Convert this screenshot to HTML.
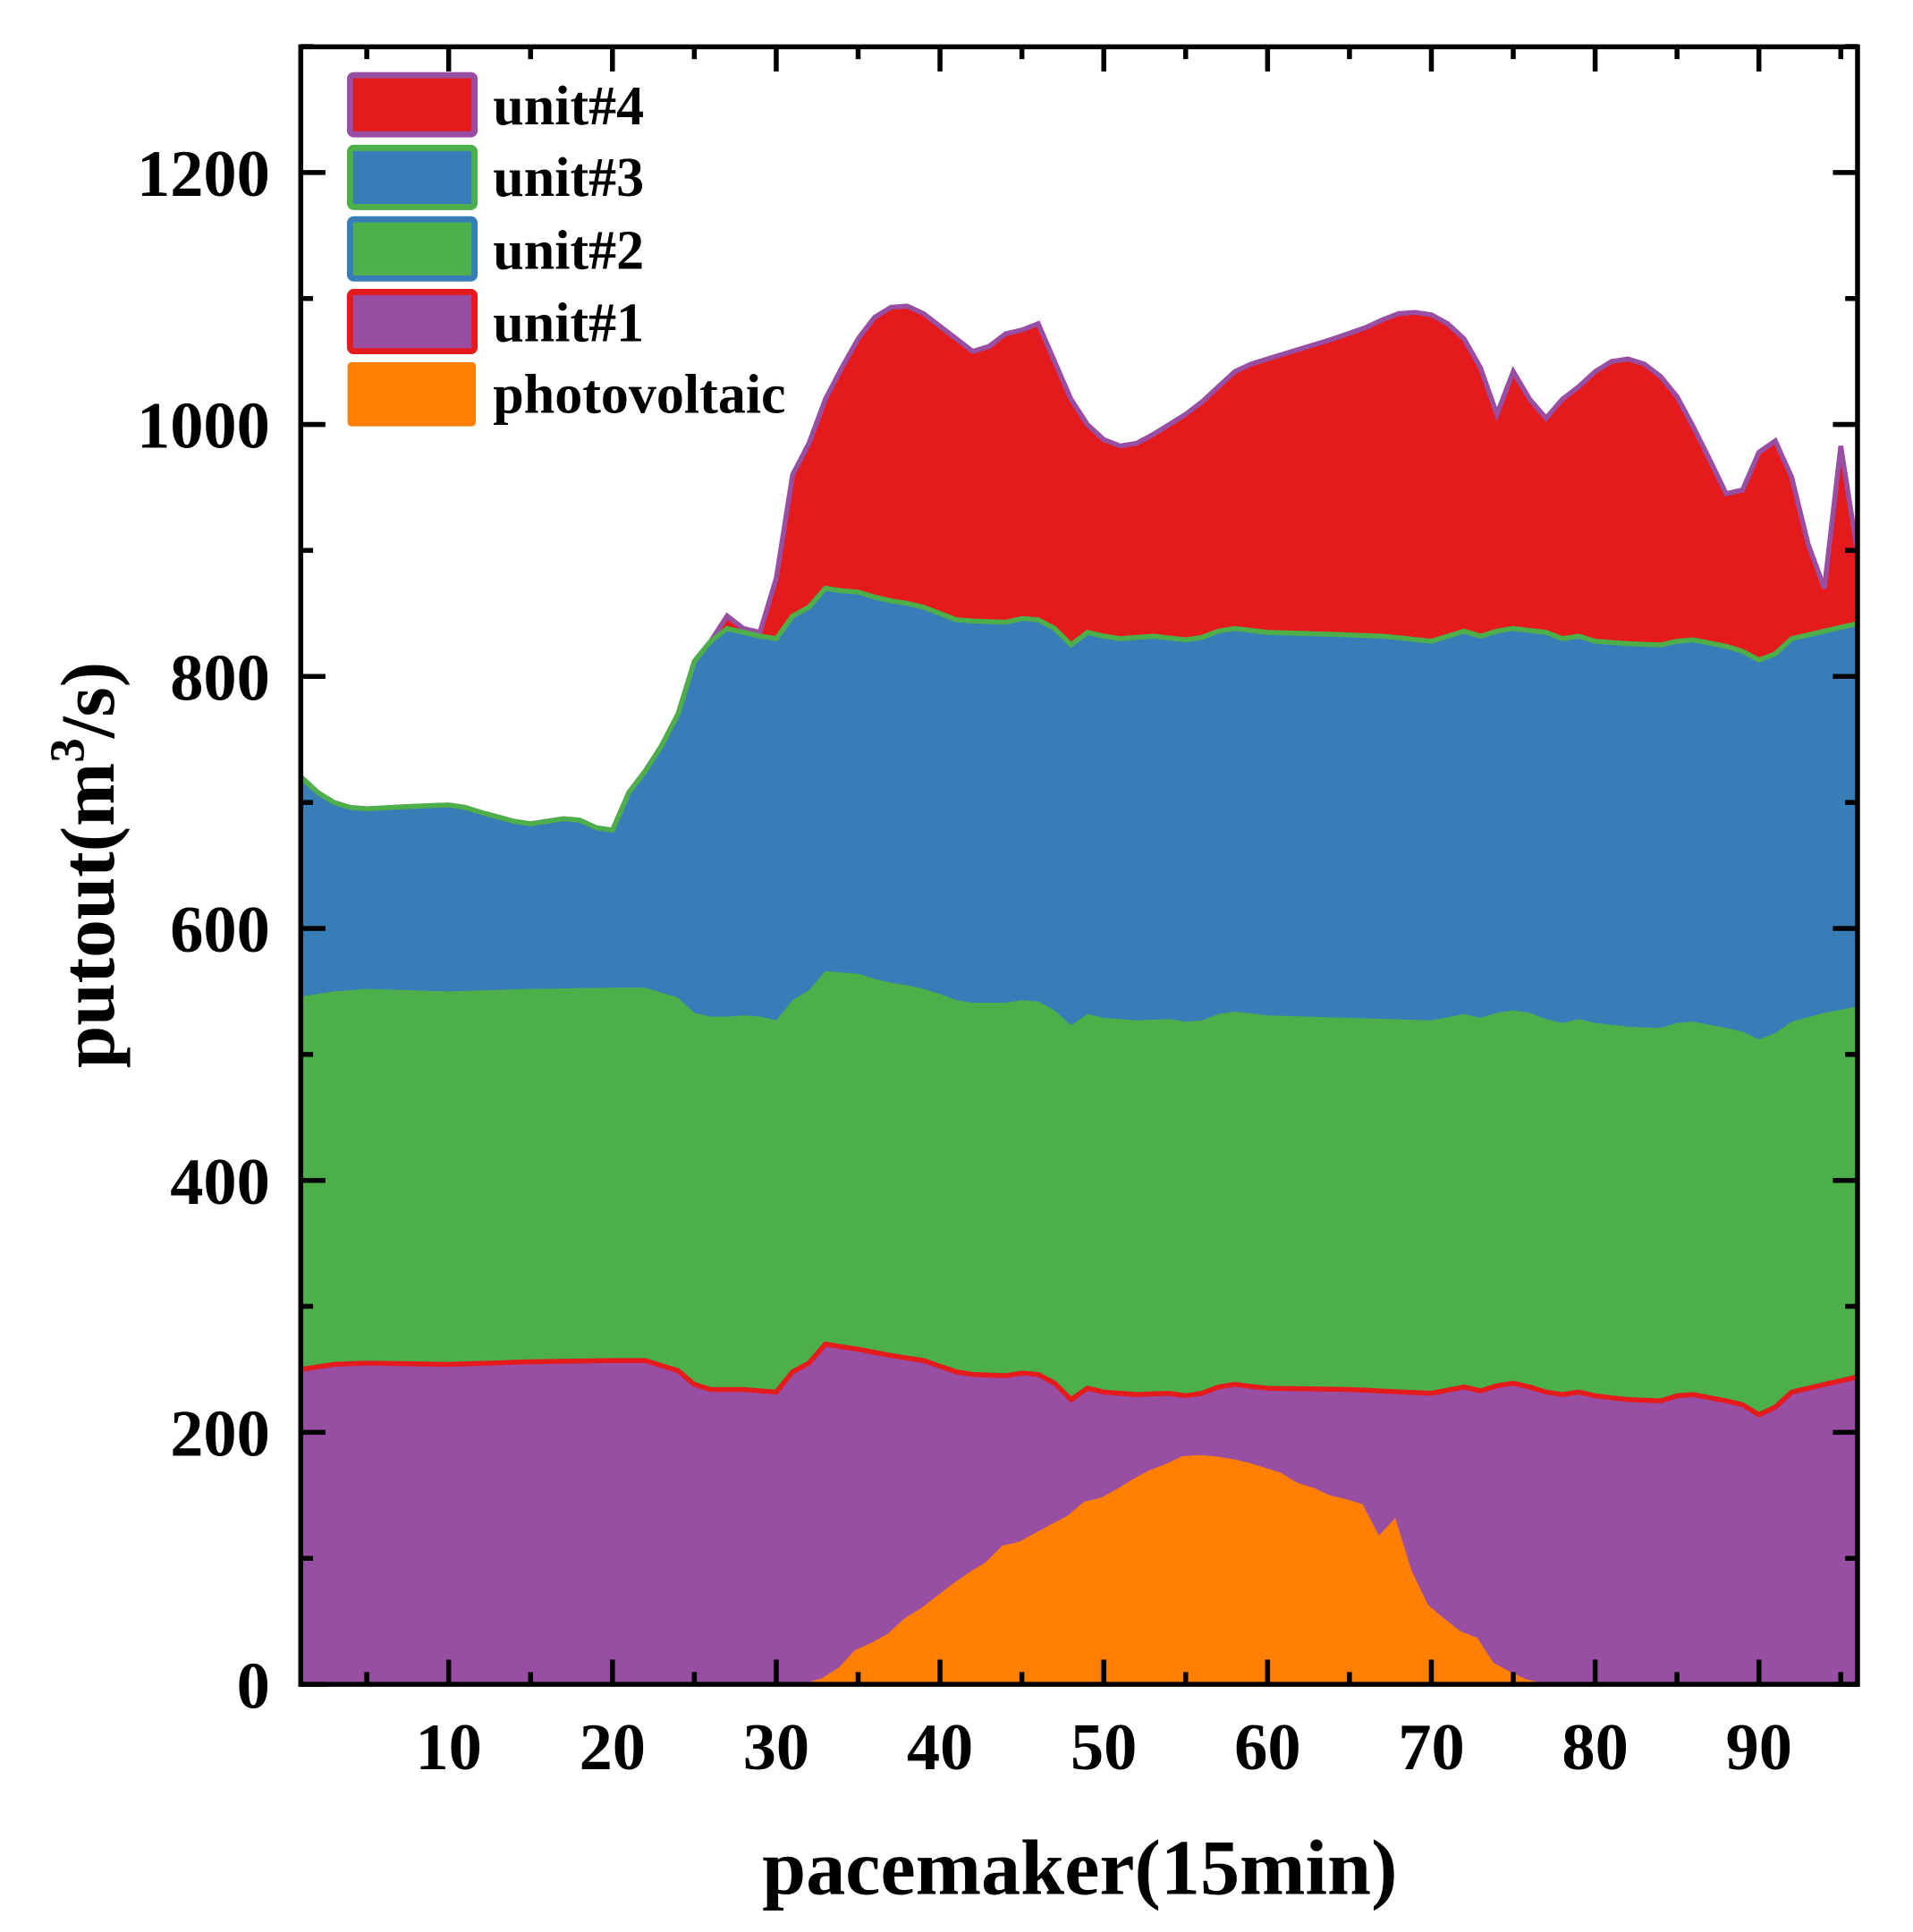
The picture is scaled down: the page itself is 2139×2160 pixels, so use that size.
<!DOCTYPE html>
<html><head><meta charset="utf-8"><style>html,body{margin:0;padding:0;background:#fff}svg{display:block}</style></head>
<body>
<svg id="s" width="2139" height="2160" viewBox="0 0 1552 1568" preserveAspectRatio="none" xmlns="http://www.w3.org/2000/svg" font-family="'Liberation Serif',serif" font-weight="bold">
<g id="areas"></g>
<g id="axes"></g>
<g font-size="45">
<rect x="284" y="61" width="101" height="48" rx="3" fill="#e41a1c" stroke="#984ea3" stroke-width="5"/>
<rect x="284" y="120" width="101" height="48" rx="3" fill="#377eb8" stroke="#4daf4a" stroke-width="5"/>
<rect x="284" y="178" width="101" height="48" rx="3" fill="#4daf4a" stroke="#377eb8" stroke-width="5"/>
<rect x="284" y="237" width="101" height="48" rx="3" fill="#984ea3" stroke="#e41a1c" stroke-width="5"/>
<rect x="282" y="294" width="104" height="52" rx="3" fill="#ff7f00"/>
<text x="400" y="101">unit#4</text>
<text x="400" y="159">unit#3</text>
<text x="400" y="218">unit#2</text>
<text x="400" y="277">unit#1</text>
<text x="400" y="335">photovoltaic</text>
</g>
<text x="876" y="1537" font-size="64" text-anchor="middle">pacemaker(15min)</text>
<text transform="translate(92,702) rotate(-90)" font-size="62" text-anchor="middle">putout(m<tspan font-size="40" dy="-24">3</tspan><tspan dy="24">/s)</tspan></text>
</svg>
<script>
const X0=244,X1=1507,Y0=1367,Y1=38;
const sx=x=>364+(x-10)*13.2875, sy=v=>1367-v*1.0225;
function interp(pts){const r=[];for(let x=1;x<=96;x++){let i=0;while(i<pts.length-2&&pts[i+1][0]<x)i++;const [a,va]=pts[i],[b,vb]=pts[i+1];let v=x<=a?va:x>=b?vb:va+(vb-va)*(x-a)/(b-a);r.push(v);}return r;}
function P(a,s){s=s||0;const r=[];for(let i=0;i<a.length;i+=2)r.push([a[i]+s,a[i+1]]);return r;}
const u3=interp(P([1,720,2,708,3,700,4,696,5,695,8,697,10,698,11,696,12,692,14,685,15,683,17,687,18,686,19,680,20,678,21,708,22,725,23,745,24,770,25,812,26,828,27,838,28,835,29,832,30,830,31,848,32,855,33,870,34,868,35,867,36,863,37,860,38,858,39,855,40,850,41,845,42,844,44,843,45,846,46,845,47,838,48,825,49,835,50,832,51,830,53,832,55,829,56,831,57,836,58,838,60,835,65,833,67,832,70,828,72,836,73,832,74,836,75,838,77,835,78,830,79,832,80,828,82,826,84,825,85,828,86,829,88,824,89,820,90,813,91,818,92,830,94,836,96,842]));
let u4=interp(P([1,0,26,0,27,848,28,838,29,835,30,878,31,960,32,985,33,1020,34,1045,35,1068,36,1085,37,1093,38,1094,39,1088,40,1078,41,1068,42,1058,43,1062,44,1072,45,1075,46,1080,47,1050,48,1020,49,1000,50,988,51,983,52,985,53,992,54,1000,55,1008,56,1018,57,1030,58,1042,59,1048,60,1052,62,1060,64,1068,66,1077,67,1083,68,1088,69,1089,70,1087,71,1080,72,1068,73,1045,74,1008,75,1042,76,1020,77,1005,78,1020,79,1030,80,1042,81,1050,82,1052,83,1048,84,1038,85,1022,86,998,87,972,88,945,89,948,90,978,91,987,92,958,93,905,94,870,95,983,96,900]));
u4=u4.map((v,i)=>Math.max(v,u3[i]));
const u2=interp(P([1,546,3,550,5,552,10,550,15,552,20,553,22,553,24,545,25,533,26,530,27,530,28,531,29,530,30,527,31,543,32,551,33,566,34,565,35,564,36,560,37,557,38,555,39,552,40,548,41,543,42,541,44,541,45,543,46,542,47,535,48,523,49,532,50,529,52,527,54,528,55,526,56,527,57,532,58,534,60,531,65,529,70,527,72,532,73,529,74,533,75,535,76,533,77,528,78,525,79,528,80,525,82,522,84,521,85,525,86,526,88,521,89,518,90,512,91,517,92,526,94,533,96,538]));
const u1=interp(P([1,250,3,254,5,255,10,254,15,256,20,257,22,257,24,249,25,238,26,234,28,234,29,233,30,232,31,248,32,255,33,270,34,268,35,266,37,261,39,257,41,248,42,246,44,245,45,247,46,246,47,239,48,226,49,235,50,232,52,230,54,231,55,229,56,231,57,236,58,238,60,235,65,234,70,231,72,236,73,233,74,237,75,239,76,236,77,232,78,230,79,232,80,229,82,226,84,225,85,229,86,230,88,225,89,222,90,214,91,220,92,232,94,238,96,244]));
const pv=interp(P([-1,0,28.8,0,29.8,1,30.8,5,31.8,13,32.8,27,33.8,33,34.8,40,35.8,52,36.8,60,37.8,70,38.8,80,39.8,89,40.8,97,41.8,110,42.8,113,43.8,120,44.8,127,45.8,134,46.8,145,47.8,148,48.8,155,49.8,163,50.8,170,51.8,175,52.8,181,53.8,182,54.8,181,55.8,179,56.8,176,57.8,172,58.8,168,59.8,160,60.8,156,61.8,150,62.8,147,63.8,143,64.8,118,65.8,132,66.8,90,67.8,63,68.8,52,69.8,42,70.8,37,71.8,17,72.8,10,73.8,4,74.8,1,75.8,0,97,0],2));
const line=a=>a.map((v,i)=>(i?'L':'M')+sx(i+1).toFixed(1)+','+sy(v).toFixed(1)).join('');
const area=(a,c)=>`<path d="${line(a)}L${sx(96)},${Y0}L${sx(1)},${Y0}Z" fill="${c}"/>`;
function fineArea(pts,c){ // direct points path for pv
 let d='M'+sx(1)+','+Y0;pts.forEach(p=>{const x=Math.min(96,Math.max(1,p[0]));d+='L'+sx(x).toFixed(1)+','+sy(p[1]).toFixed(1);});d+='L'+sx(96)+','+Y0+'Z';return `<path d="${d}" fill="${c}"/>`;}
const pvPts=P([-1,0,28.8,0,29.8,1,30.8,5,31.8,13,32.8,27,33.8,33,34.8,40,35.8,52,36.8,60,37.8,70,38.8,80,39.8,89,40.8,97,41.8,110,42.8,113,43.8,120,44.8,127,45.8,134,46.8,145,47.8,148,48.8,155,49.8,163,50.8,170,51.8,175,52.8,181,53.8,182,54.8,181,55.8,179,56.8,176,57.8,172,58.8,168,59.8,160,60.8,156,61.8,150,62.8,147,63.8,143,64.8,118,65.8,132,66.8,90,67.8,63,68.8,52,69.8,42,70.8,37,71.8,17,72.8,10,73.8,4,74.8,1,75.8,0,97,0],2);
let h='';
h+=area(u4,'#e41a1c')+area(u3,'#377eb8')+area(u2,'#4daf4a')+area(u1,'#984ea3')+fineArea(pvPts,'#ff7f00');
h+=`<path d="${line(u4)}" fill="none" stroke="#984ea3" stroke-width="4"/>`;
h+=`<path d="${line(u3)}" fill="none" stroke="#4daf4a" stroke-width="4"/>`;
h+=`<path d="${line(u1)}" fill="none" stroke="#e41a1c" stroke-width="4"/>`;
document.getElementById('areas').innerHTML=h;
let g=`<rect x="${X0}" y="${Y1}" width="${X1-X0}" height="${Y0-Y1}" fill="none" stroke="#000" stroke-width="4"/>`;
for(let v=0;v<=1300;v+=100){const y=sy(v),L=v%200?10:20;g+=`<path d="M${X0},${y}h${L}M${X1},${y}h${-L}" stroke="#000" stroke-width="4"/>`;if(v%200==0)g+=`<text x="219" y="${y+19}" font-size="54" text-anchor="end">${v}</text>`;}
for(let x=5;x<=95;x+=5){const X=sx(x),L=x%10?10:20;g+=`<path d="M${X},${Y0}v${-L}M${X},${Y1}v${L}" stroke="#000" stroke-width="4"/>`;if(x%10==0)g+=`<text x="${X}" y="1436" font-size="54" text-anchor="middle">${x}</text>`;}
document.getElementById('axes').innerHTML=g;
</script>
</body></html>
